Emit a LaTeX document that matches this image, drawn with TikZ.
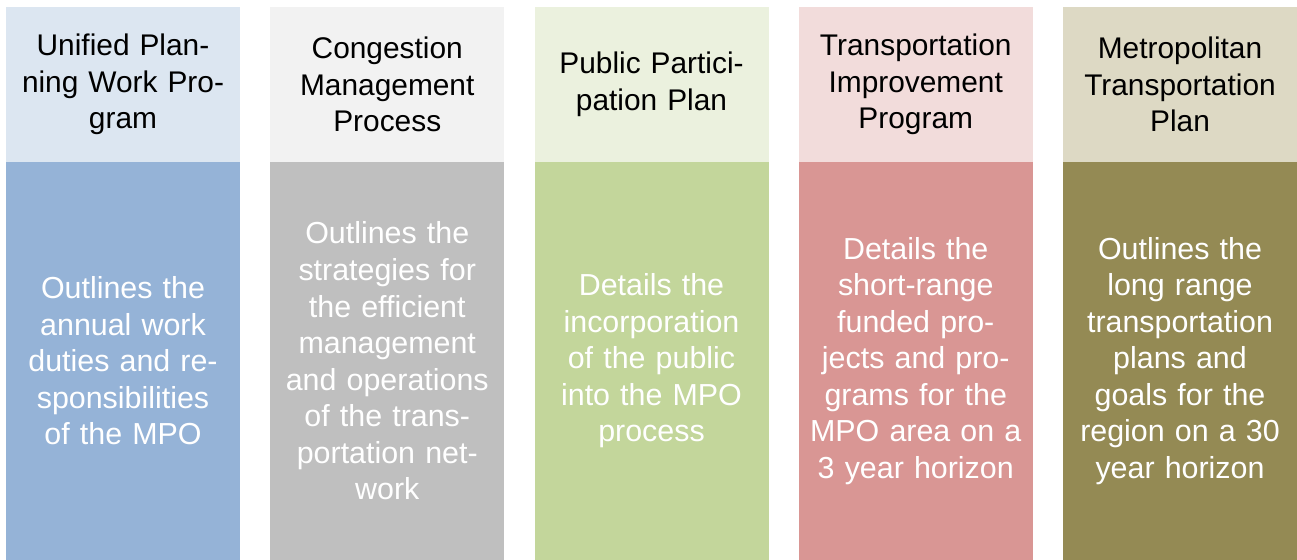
\documentclass[tikz,border=0pt]{standalone}
\usepackage{fontspec}
\setmainfont{Liberation Sans}
\usepackage{xcolor}
\usetikzlibrary{positioning}

\definecolor{upwpHead}{HTML}{DCE6F1}
\definecolor{upwpBody}{HTML}{95B3D7}
\definecolor{cmpHead}{HTML}{F2F2F2}
\definecolor{cmpBody}{HTML}{BFBFBF}
\definecolor{pppHead}{HTML}{EBF1DE}
\definecolor{pppBody}{HTML}{C3D69B}
\definecolor{tipHead}{HTML}{F2DCDB}
\definecolor{tipBody}{HTML}{D99694}
\definecolor{mtpHead}{HTML}{DDD9C4}
\definecolor{mtpBody}{HTML}{948A54}

\tikzset{
    head/.style={minimum width=4.68cm, minimum height=3.1cm, text width=4.3cm,
        inner sep=0pt, outer sep=0pt, align=center,
        font=\fontsize{17}{20.8}\selectfont, text=black},
    body/.style={minimum width=4.68cm, minimum height=7.96cm, text width=4.3cm,
        inner sep=0pt, outer sep=0pt, align=center,
        font=\fontsize{17.3}{20.8}\selectfont, text=white,
        below=0pt of #1},
}

\begin{document}
\begin{tikzpicture}
    \useasboundingbox (0,0) rectangle (25.94,-11.2);
    % headers
    \node[head, fill=upwpHead] (upwp) at (2.46,-1.69) {Unified Plan-\\ning Work Pro-\\gram};
    \node[head, fill=cmpHead, right=0.605cm of upwp] (cmp) {Congestion\\Management\\Process};
    \node[head, fill=pppHead, right=0.605cm of cmp] (ppp) {Public Partici-\\pation Plan};
    \node[head, fill=tipHead, right=0.605cm of ppp] (tip) {Transportation\\Improvement\\Program};
    \node[head, fill=mtpHead, right=0.605cm of tip] (mtp) {Metropolitan\\Transportation\\Plan};
    % descriptions
    \node[body=upwp, fill=upwpBody] (upwpText) {Outlines the\\annual work\\duties and re-\\sponsibilities\\of the MPO};
    \node[body=cmp, fill=cmpBody] (cmpText) {Outlines the\\strategies for\\the efficient\\management\\and operations\\of the trans-\\portation net-\\work};
    \node[body=ppp, fill=pppBody] (pppText) {Details the\\incorporation\\of the public\\into the MPO\\process};
    \node[body=tip, fill=tipBody] (tipText) {Details the\\short-range\\funded pro-\\jects and pro-\\grams for the\\MPO area on a\\3 year horizon};
    \node[body=mtp, fill=mtpBody] (mtpText) {Outlines the\\long range\\transportation\\plans and\\goals for the\\region on a 30\\year horizon};
\end{tikzpicture}
\end{document}
